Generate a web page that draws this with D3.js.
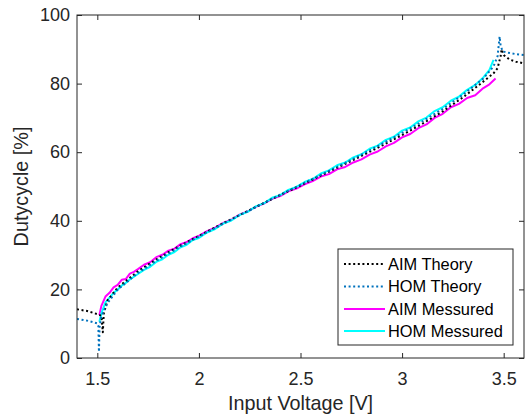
<!DOCTYPE html>
<html>
<head>
<meta charset="utf-8">
<script src="https://cdn.jsdelivr.net/npm/d3@7"></script>
<style>
  html, body { margin: 0; padding: 0; background: #fff; }
  svg { display: block; font-family: "Liberation Sans", Arial, Helvetica, sans-serif; }
</style>
</head>
<body>
<svg id="chart" width="527" height="416"></svg>
<script>
// ---------- data ----------
const xTicks = [1.5, 2, 2.5, 3, 3.5];
const xTickLabels = ["1.5", "2", "2.5", "3", "3.5"];
const yTicks = [0, 20, 40, 60, 80, 100];
const yTickLabels = ["0", "20", "40", "60", "80", "100"];

const seriesNames = ["AIM Theory", "HOM Theory", "AIM Messured", "HOM Messured"];

const aimTheoryV = [1.40, 1.45, 1.50, 1.52, 1.527, 1.532, 1.55, 1.60, 1.70, 1.80, 1.90, 2.00, 2.10, 2.20, 2.30, 2.40, 2.50, 2.60, 2.70, 2.80, 2.90, 3.00, 3.10, 3.20, 3.30, 3.40, 3.45, 3.47, 3.485, 3.49, 3.50, 3.53, 3.56, 3.60];
const aimTheoryD = [14.2, 13.7, 12.8, 12.3, 7.5, 13.0, 16.8, 20.5, 25.3, 29.1, 32.5, 35.6, 38.7, 41.7, 44.6, 47.5, 50.3, 53.2, 56.0, 58.9, 61.9, 65.0, 68.3, 71.9, 76.0, 80.6, 83.0, 84.5, 88.0, 90.0, 88.3, 87.0, 86.4, 85.9];

const homTheoryV = [1.40, 1.45, 1.50, 1.505, 1.508, 1.511, 1.52, 1.55, 1.60, 1.70, 1.80, 1.90, 2.00, 2.10, 2.20, 2.30, 2.40, 2.50, 2.60, 2.70, 2.80, 2.90, 3.00, 3.10, 3.20, 3.30, 3.40, 3.45, 3.47, 3.48, 3.485, 3.495, 3.52, 3.56, 3.60];
const homTheoryD = [11.4, 10.9, 10.1, 9.5, 1.8, 9.0, 12.2, 16.0, 19.9, 24.8, 28.7, 32.2, 35.4, 38.5, 41.6, 44.6, 47.6, 50.5, 53.4, 56.3, 59.3, 62.4, 65.6, 69.0, 72.6, 76.8, 81.5, 85.0, 88.0, 93.7, 91.0, 89.4, 89.0, 88.6, 88.3];

const aimMeasV = [1.51, 1.52, 1.54, 1.56, 1.58, 1.60, 1.62, 1.64, 1.66, 1.68, 1.70, 1.73, 1.76, 1.79, 1.82, 1.85, 1.88, 1.91, 1.94, 1.97, 2.00, 2.04, 2.08, 2.12, 2.16, 2.20, 2.24, 2.28, 2.32, 2.36, 2.40, 2.44, 2.48, 2.52, 2.56, 2.60, 2.64, 2.68, 2.72, 2.76, 2.80, 2.84, 2.88, 2.92, 2.96, 3.00, 3.04, 3.08, 3.12, 3.16, 3.20, 3.24, 3.28, 3.32, 3.36, 3.40, 3.43, 3.46];
const aimMeasD = [12.5, 15.2, 17.9, 19.0, 20.6, 21.3, 22.8, 23.0, 24.6, 25.1, 25.9, 27.2, 27.9, 29.4, 30.1, 31.3, 31.9, 33.2, 33.8, 34.9, 35.6, 37.0, 38.0, 39.4, 40.3, 41.8, 42.7, 44.1, 45.0, 46.4, 47.2, 48.6, 49.4, 50.6, 51.6, 52.9, 53.6, 55.0, 55.7, 57.0, 57.9, 59.3, 60.2, 61.7, 62.7, 64.3, 65.3, 67.0, 68.1, 70.0, 71.2, 73.1, 74.1, 75.8, 76.6, 78.7, 79.8, 81.5];

const homMeasV = [1.51, 1.52, 1.54, 1.56, 1.58, 1.60, 1.62, 1.64, 1.66, 1.68, 1.70, 1.73, 1.76, 1.79, 1.82, 1.85, 1.88, 1.91, 1.94, 1.97, 2.00, 2.04, 2.08, 2.12, 2.16, 2.20, 2.24, 2.28, 2.32, 2.36, 2.40, 2.44, 2.48, 2.52, 2.56, 2.60, 2.64, 2.68, 2.72, 2.76, 2.80, 2.84, 2.88, 2.92, 2.96, 3.00, 3.04, 3.08, 3.12, 3.16, 3.20, 3.24, 3.28, 3.32, 3.36, 3.40, 3.43, 3.45];
const homMeasD = [10.6, 13.0, 16.2, 17.6, 19.0, 19.9, 21.1, 21.9, 22.9, 23.7, 24.5, 25.7, 26.6, 28.0, 28.8, 30.1, 30.9, 32.3, 33.0, 34.4, 35.0, 36.6, 37.6, 39.2, 40.1, 41.7, 42.6, 44.2, 45.1, 46.7, 47.5, 49.0, 49.9, 51.3, 52.2, 53.8, 54.7, 56.2, 57.0, 58.5, 59.4, 61.0, 61.9, 63.6, 64.5, 66.3, 67.2, 69.0, 70.1, 72.0, 73.1, 75.0, 76.2, 78.2, 79.6, 81.8, 84.0, 86.9];

// ---------- layout ----------
const L = 77, R = 524, T = 15, B = 358;
const axisColor = "#262626";
const svg = d3.select("#chart");

const x = d3.scaleLinear().domain([1.4, 3.6]).range([L, R]);
const y = d3.scaleLinear().domain([0, 100]).range([B, T]);

const series = [
  { name: seriesNames[0], v: aimTheoryV, d: aimTheoryD, color: "#000000", dash: "2,2.6" },
  { name: seriesNames[1], v: homTheoryV, d: homTheoryD, color: "#0072BD", dash: "2,2.6" },
  { name: seriesNames[2], v: aimMeasV, d: aimMeasD, color: "#FF00FF", dash: null },
  { name: seriesNames[3], v: homMeasV, d: homMeasD, color: "#00FFFF", dash: null }
];

svg.append("defs").append("clipPath").attr("id", "clip")
  .append("rect").attr("x", L).attr("y", T).attr("width", R - L).attr("height", B - T);

const line = d3.line().x(p => x(p[0])).y(p => y(p[1]));

const plot = svg.append("g").attr("clip-path", "url(#clip)");
[series[2], series[3], series[0], series[1]].forEach(s => {
  const pts = s.v.map((v, i) => [v, s.d[i]]);
  plot.append("path")
    .attr("d", line(pts))
    .attr("fill", "none")
    .attr("stroke", s.color)
    .attr("stroke-width", 2)
    .attr("stroke-linejoin", "round")
    .attr("stroke-dasharray", s.dash);
});

// axes (MATLAB style, ticks inward, box)
const tickLen = 5;
const fontTick = 18;
const xAxisB = d3.axisBottom(x).tickValues(xTicks).tickFormat((d, i) => xTickLabels[i]).tickSizeInner(-tickLen).tickSizeOuter(0).tickPadding(14);
const xAxisT = d3.axisTop(x).tickValues(xTicks).tickFormat("").tickSizeInner(-tickLen).tickSizeOuter(0);
const yAxisL = d3.axisLeft(y).tickValues(yTicks).tickFormat((d, i) => yTickLabels[i]).tickSizeInner(-tickLen).tickSizeOuter(0).tickPadding(7);
const yAxisR = d3.axisRight(y).tickValues(yTicks).tickFormat("").tickSizeInner(-tickLen).tickSizeOuter(0);

function style(g) {
  g.select(".domain").remove();
  g.selectAll("line").attr("stroke", axisColor).attr("stroke-width", 1);
  g.selectAll("text").attr("fill", axisColor).style("font-size", fontTick + "px")
    .style("font-family", '"Liberation Sans", Arial, sans-serif');
}
svg.append("g").attr("transform", `translate(0,${B})`).call(xAxisB).call(style);
svg.append("g").attr("transform", `translate(0,${T})`).call(xAxisT).call(style);
svg.append("g").attr("transform", `translate(${L},0)`).call(yAxisL).call(style);
svg.append("g").attr("transform", `translate(${R},0)`).call(yAxisR).call(style);

svg.append("rect").attr("x", L).attr("y", T).attr("width", R - L).attr("height", B - T)
  .attr("fill", "none").attr("stroke", axisColor).attr("stroke-width", 1);

// axis labels
svg.append("text").attr("x", (L + R) / 2).attr("y", 410).attr("text-anchor", "middle")
  .attr("fill", axisColor).style("font-size", "19.8px").text("Input Voltage [V]");
svg.append("text").attr("transform", `translate(28,${(T + B) / 2}) rotate(-90)`)
  .attr("text-anchor", "middle").attr("fill", axisColor).style("font-size", "19.8px").text("Dutycycle [%]");

// legend
const lg = svg.append("g");
lg.append("rect").attr("x", 338).attr("y", 249).attr("width", 175).attr("height", 96)
  .attr("fill", "#fff").attr("stroke", axisColor).attr("stroke-width", 1);
const rowY = [264, 286.5, 309, 331];
series.forEach((s, i) => {
  lg.append("line").attr("x1", 344).attr("x2", 385).attr("y1", rowY[i]).attr("y2", rowY[i])
    .attr("stroke", s.color).attr("stroke-width", 2).attr("stroke-dasharray", s.dash);
  lg.append("text").attr("x", 388).attr("y", rowY[i]).attr("dy", "0.36em")
    .attr("fill", "#000").style("font-size", "16.4px").text(s.name);
});
</script>
</body>
</html>
